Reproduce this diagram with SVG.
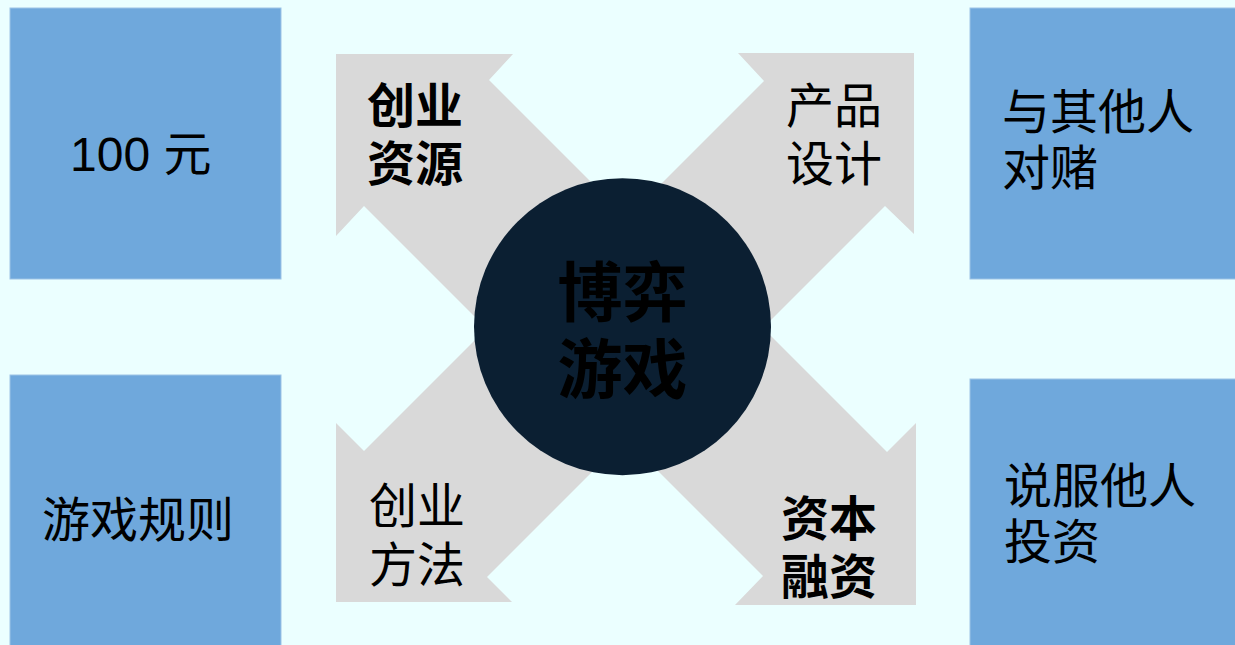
<svg xmlns="http://www.w3.org/2000/svg" width="1235" height="645" viewBox="0 0 1235 645">
<style>
.box{fill:#6FA8DC;stroke:#9DC3E6;stroke-width:1}
.arrow{fill:#D9D9D9}
.t{font-family:"Noto Sans CJK SC","Noto Sans",sans-serif;font-size:48px;fill:#000}
.num{font-family:"Liberation Sans","Noto Sans CJK SC",sans-serif;font-size:48px;fill:#000}
.b{font-weight:bold}
.c{font-family:"Noto Sans CJK SC",sans-serif;font-size:65px;font-weight:bold;fill:#000;text-anchor:middle}
</style>
<rect width="1235" height="645" fill="#EBFFFF"/>
<g id="box-tl"><rect class="box" x="10" y="8" width="271" height="271"/><text class="num" x="70" y="171">100 元</text></g>
<g id="box-tr"><rect class="box" x="970" y="8" width="270" height="271"/><text class="t"><tspan x="1002" y="129">与其他人</tspan><tspan x="1002" y="185">对赌</tspan></text></g>
<g id="box-bl"><rect class="box" x="10" y="375" width="271" height="275"/><text class="t" x="42" y="537">游戏规则</text></g>
<g id="box-br"><rect class="box" x="970" y="379" width="270" height="271"/><text class="t"><tspan x="1004" y="503">说服他人</tspan><tspan x="1004" y="559">投资</tspan></text></g>
<g id="connectors">
<polygon id="arrow-tl" class="arrow" points="336,54 513,54 489,80 689,280 564,406 364,206 336,236"/>
<polygon id="arrow-tr" class="arrow" points="914,53 914,234 885,206 685,406 564,281 764,81 738,53"/>
<polygon id="arrow-bl" class="arrow" points="336,602 336,423 364,451 564,251 687,377 487,577 512,602"/>
<polygon id="arrow-br" class="arrow" points="916,605 735,605 763,576 563,376 687,252 887,452 916,423"/>
</g>
<g id="label-tl"><text class="t b"><tspan x="367" y="123">创业</tspan><tspan x="367" y="181">资源</tspan></text></g>
<g id="label-tr"><text class="t"><tspan x="786" y="123">产品</tspan><tspan x="786" y="181">设计</tspan></text></g>
<g id="label-bl"><text class="t"><tspan x="369" y="523">创业</tspan><tspan x="369" y="582">方法</tspan></text></g>
<g id="label-br"><text class="t b"><tspan x="781" y="536">资本</tspan><tspan x="781" y="594">融资</tspan></text></g>
<g id="center"><circle cx="622.5" cy="326.7" r="148.5" fill="#0B1F32"/><text class="c"><tspan x="622.5" y="316">博弈</tspan><tspan x="622.5" y="393">游戏</tspan></text></g>
</svg>
